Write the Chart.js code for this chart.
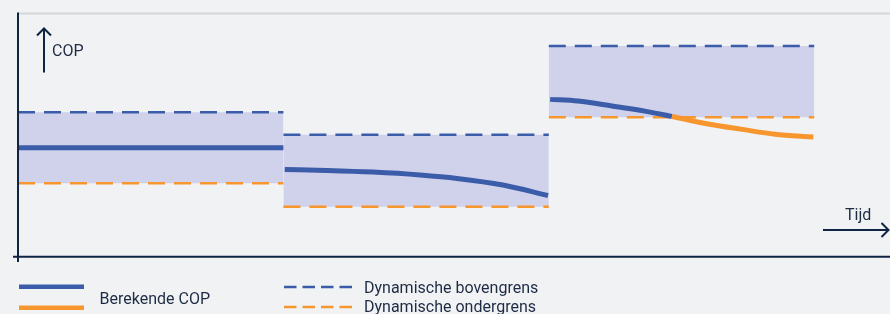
<!DOCTYPE html>
<html>
<head>
<meta charset="utf-8">
<script src="https://cdn.jsdelivr.net/npm/chart.js@4"></script>
<style>
  html, body { margin: 0; padding: 0; background: #f1f2f4; }
  canvas { display: block; }
</style>
</head>
<body>
<canvas id="myChart" width="890" height="314"></canvas>
<script>
///////Data
// time blocks (x) and the dynamic limits per block (COP)
const blockStart = [0, 1, 2];
const blockEnd = [1, 2, 3];
const upperLimit = [5.93, 5.01, 8.65];
const lowerLimit = [3.02, 2.06, 5.73];

// calculated COP per block
const copX1 = [0, 1];
const copY1 = [4.48, 4.48];
const copX2 = [1.005, 1.164, 1.338, 1.515, 1.654, 1.827, 1.997];
const copY2 = [3.59, 3.55, 3.48, 3.36, 3.22, 2.95, 2.52];
const copX3 = [2.005, 2.11, 2.238, 2.362, 2.464, 2.6, 2.728, 2.852, 2.997];
const copY3 = [6.46, 6.39, 6.19, 5.98, 5.76, 5.45, 5.23, 5.03, 4.92];
// from this point on the COP is below the lower limit -> orange
const belowFromIndex = 4;

const legendLabels = ['Berekende COP', 'Dynamische bovengrens', 'Dynamische ondergrens'];
const axisLabels = ['COP', 'Tijd'];

///////Colors
const blue = '#3b5ca8';
const orange = '#f7962e';
const band = '#d0d1eb';
const navy = '#0f2442';
const textColor = '#1d2b43';
const font = '16px Roboto';

const toPoints = (xs, ys) => xs.map((x, i) => ({ x: x, y: ys[i] }));

const datasets = [];
for (let i = 0; i < blockStart.length; i++) {
  datasets.push({
    data: toPoints([blockStart[i], blockEnd[i]], [upperLimit[i], upperLimit[i]]),
    borderColor: blue,
    borderWidth: 2.5,
    borderDash: [17, 9],
    fill: '+1',
    backgroundColor: band,
    order: 5,
  });
  datasets.push({
    data: toPoints([blockStart[i], blockEnd[i]], [lowerLimit[i], lowerLimit[i]]),
    borderColor: orange,
    borderWidth: 2.5,
    borderDash: [17, 9],
    fill: false,
    order: 4,
  });
}
const copLine = (pts, color) => ({
  data: pts,
  borderColor: color,
  borderWidth: 5,
  fill: false,
  cubicInterpolationMode: 'monotone',
  order: 1,
});
datasets.push(copLine(toPoints(copX1, copY1), blue));
datasets.push(copLine(toPoints(copX2, copY2), blue));
const cop3 = copLine(toPoints(copX3, copY3), blue);
cop3.segment = {
  borderColor: (c) => (c.p0DataIndex >= belowFromIndex ? orange : blue),
};
datasets.push(cop3);

//////Extra drawing: axes, arrows, legend
function line(ctx, x1, y1, x2, y2, color, width, dash) {
  ctx.save();
  ctx.strokeStyle = color;
  ctx.lineWidth = width;
  ctx.setLineDash(dash || []);
  ctx.beginPath();
  ctx.moveTo(x1, y1);
  ctx.lineTo(x2, y2);
  ctx.stroke();
  ctx.restore();
}

const decorations = {
  id: 'decorations',
  afterDraw(chart) {
    const ctx = chart.ctx;
    const area = chart.chartArea;
    // frame
    line(ctx, area.left, 13.5, area.right, 13.5, '#d5d6d8', 2);
    line(ctx, 18, 12.5, 18, 262, navy, 2);
    line(ctx, 13, 256.7, area.right, 256.7, navy, 2);

    // COP arrow
    line(ctx, 44, 29, 44, 72.5, navy, 2);
    ctx.save();
    ctx.strokeStyle = navy;
    ctx.lineWidth = 2;
    ctx.beginPath();
    ctx.moveTo(37, 35.5);
    ctx.lineTo(44, 28.5);
    ctx.lineTo(51, 35.5);
    ctx.stroke();
    // Tijd arrow
    line(ctx, 823, 230, 888, 230, navy, 2);
    ctx.beginPath();
    ctx.moveTo(881.5, 223);
    ctx.lineTo(888.5, 230);
    ctx.lineTo(881.5, 237);
    ctx.stroke();

    ctx.fillStyle = textColor;
    ctx.font = font;
    ctx.textBaseline = 'alphabetic';
    ctx.fillText(axisLabels[0], 52, 56);
    ctx.fillText(axisLabels[1], 845, 219.5);

    // legend
    line(ctx, 19, 286.7, 84, 286.7, blue, 4.5);
    line(ctx, 19, 307.7, 84, 307.7, orange, 4.5);
    line(ctx, 284, 287, 353, 287, blue, 2.5, [12.5, 6]);
    line(ctx, 284, 307, 353, 307, orange, 2.5, [12.5, 6]);
    ctx.fillText(legendLabels[0], 99.5, 304);
    ctx.fillText(legendLabels[1], 364, 293);
    ctx.fillText(legendLabels[2], 364, 312);
    ctx.restore();
  },
};

//////Chart
const chart = new Chart(document.getElementById('myChart').getContext('2d'), {
  type: 'line',
  data: { datasets: datasets },
  options: {
    responsive: false,
    animation: false,
    devicePixelRatio: 1,
    layout: { padding: { left: 18, right: 0, top: 13, bottom: 57 } },
    elements: { point: { radius: 0 }, line: { borderCapStyle: 'butt' } },
    scales: {
      x: { type: 'linear', min: 0, max: 3.2856, display: false },
      y: { min: 0, max: 10, display: false },
    },
    plugins: { legend: { display: false }, tooltip: { enabled: false } },
  },
  plugins: [decorations],
});
</script>
</body>
</html>
